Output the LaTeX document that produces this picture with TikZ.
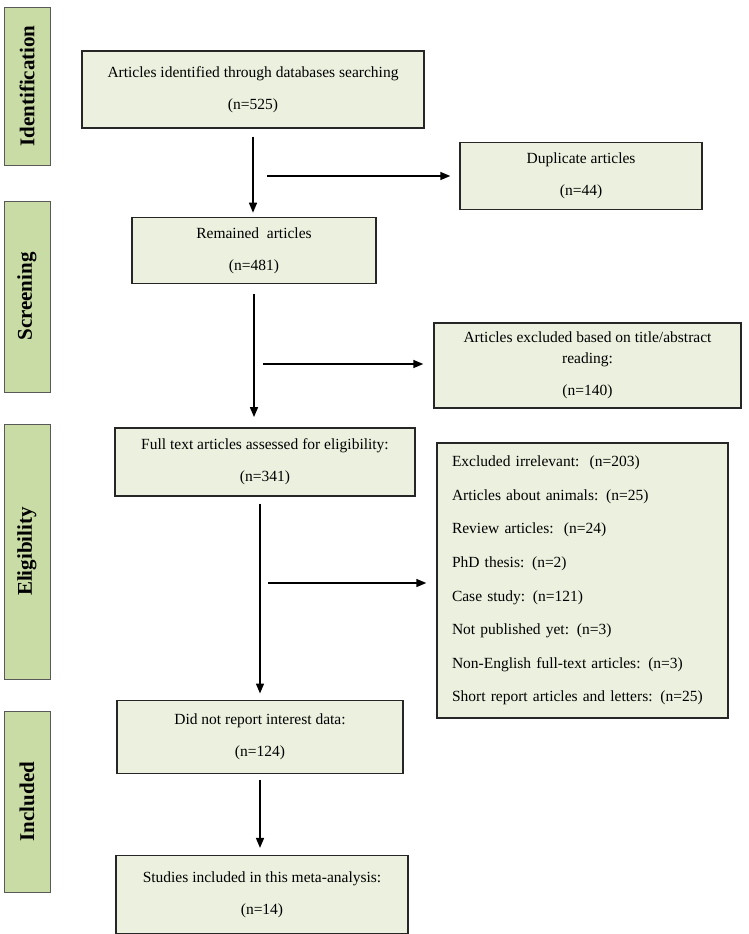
\documentclass[tikz,border=0pt]{standalone}
\usepackage{fontspec}
\setmainfont{Liberation Serif}
\usepackage{tikz}
\usetikzlibrary{positioning,shapes,arrows.meta}
\definecolor{stagegreen}{HTML}{C9DCA6}
\definecolor{boxgreen}{HTML}{EBF1DE}

\begin{document}
\begin{tikzpicture}[x=1pt,y=1pt,
    box/.style = {draw=black!85, line width=1.4pt, fill=boxgreen, align=center, inner sep=0pt, font=\fontsize{15.5}{32}\selectfont},
    stage/.style = {draw=black!65, line width=0.9pt, fill=stagegreen, rotate=90, minimum height=46pt, inner sep=0pt, font=\bfseries\fontsize{21}{25}\selectfont},
    arr/.style = {line width=1.5pt, -{Triangle[length=10pt,width=8pt]}}]
        \useasboundingbox (0,0) rectangle (749,-934);

        \node(sid)[stage, minimum width=158pt] at (27,-86) {Identification};
        \node(sscr)[stage, minimum width=191pt] at (27,-296.5) {Screening};
        \node(selig)[stage, minimum width=255pt] at (27,-551.5) {Eligibility};
        \node(sincl)[stage, minimum width=181pt] at (27,-801.5) {Included};

        \node(ident)[box, minimum width=342pt, minimum height=77pt] at (253,-89.5) {Articles identified through databases searching\\(n=525)};
        \node(rem)[box, minimum width=244pt, minimum height=66pt, below = 88pt of ident, xshift=1pt] {Remained\ \ articles\\(n=481)};
        \node(full)[box, minimum width=300pt, minimum height=68pt, below = 143pt of rem, xshift=11pt] {Full text articles assessed for eligibility:\\(n=341)};
        \node(nodata)[box, minimum width=286pt, minimum height=73pt, below = 203pt of full, xshift=-5pt] {Did not report interest data:\\(n=124)};
        \node(incl)[box, minimum width=292pt, minimum height=78pt, below = 81pt of nodata, xshift=2pt] {Studies included in this meta-analysis:\\(n=14)};

        \node(dup)[box, minimum width=242pt, minimum height=67pt] at (581,-176) {Duplicate articles\\(n=44)};
        \node(excl)[box, minimum width=307pt, minimum height=85pt, font=\fontsize{15.5}{21}\selectfont] at (587.5,-365.5) {Articles excluded based on title/abstract\\reading:\\[11pt](n=140)};
        \node(reasons)[box, minimum width=291pt, minimum height=275pt, text width=261pt, align=left, font=\fontsize{15.5}{33.6}\selectfont] at (582.5,-580.5) {Excluded irrelevant:\ \ (n=203)\\Articles about animals: (n=25)\\Review articles:\ \ (n=24)\\PhD thesis: (n=2)\\Case study: (n=121)\\Not published yet: (n=3)\\Non-English full-text articles: (n=3)\\Short report articles and letters: (n=25)};

        \coordinate(h1) at (267,-176);
        \coordinate(h2) at (263,-364);
        \coordinate(h3) at (268,-583);

        \draw[arr, shorten <=8pt, shorten >=4pt] (ident.south) -- (ident.south |- rem.north);
        \draw[arr, shorten >=9pt] (h1) -- (h1 -| dup.west);
        \draw[arr, shorten <=10pt, shorten >=10pt] (rem.south) -- (rem.south |- full.north);
        \draw[arr, shorten >=10pt] (h2) -- (h2 -| excl.west);
        \draw[arr, shorten <=7pt, shorten >=6pt] (nodata.north |- full.south) -- (nodata.north);
        \draw[arr, shorten >=10pt] (h3) -- (h3 -| reasons.west);
        \draw[arr, shorten <=6pt, shorten >=7pt] (nodata.south) -- (nodata.south |- incl.north);

    \end{tikzpicture}
\end{document}
